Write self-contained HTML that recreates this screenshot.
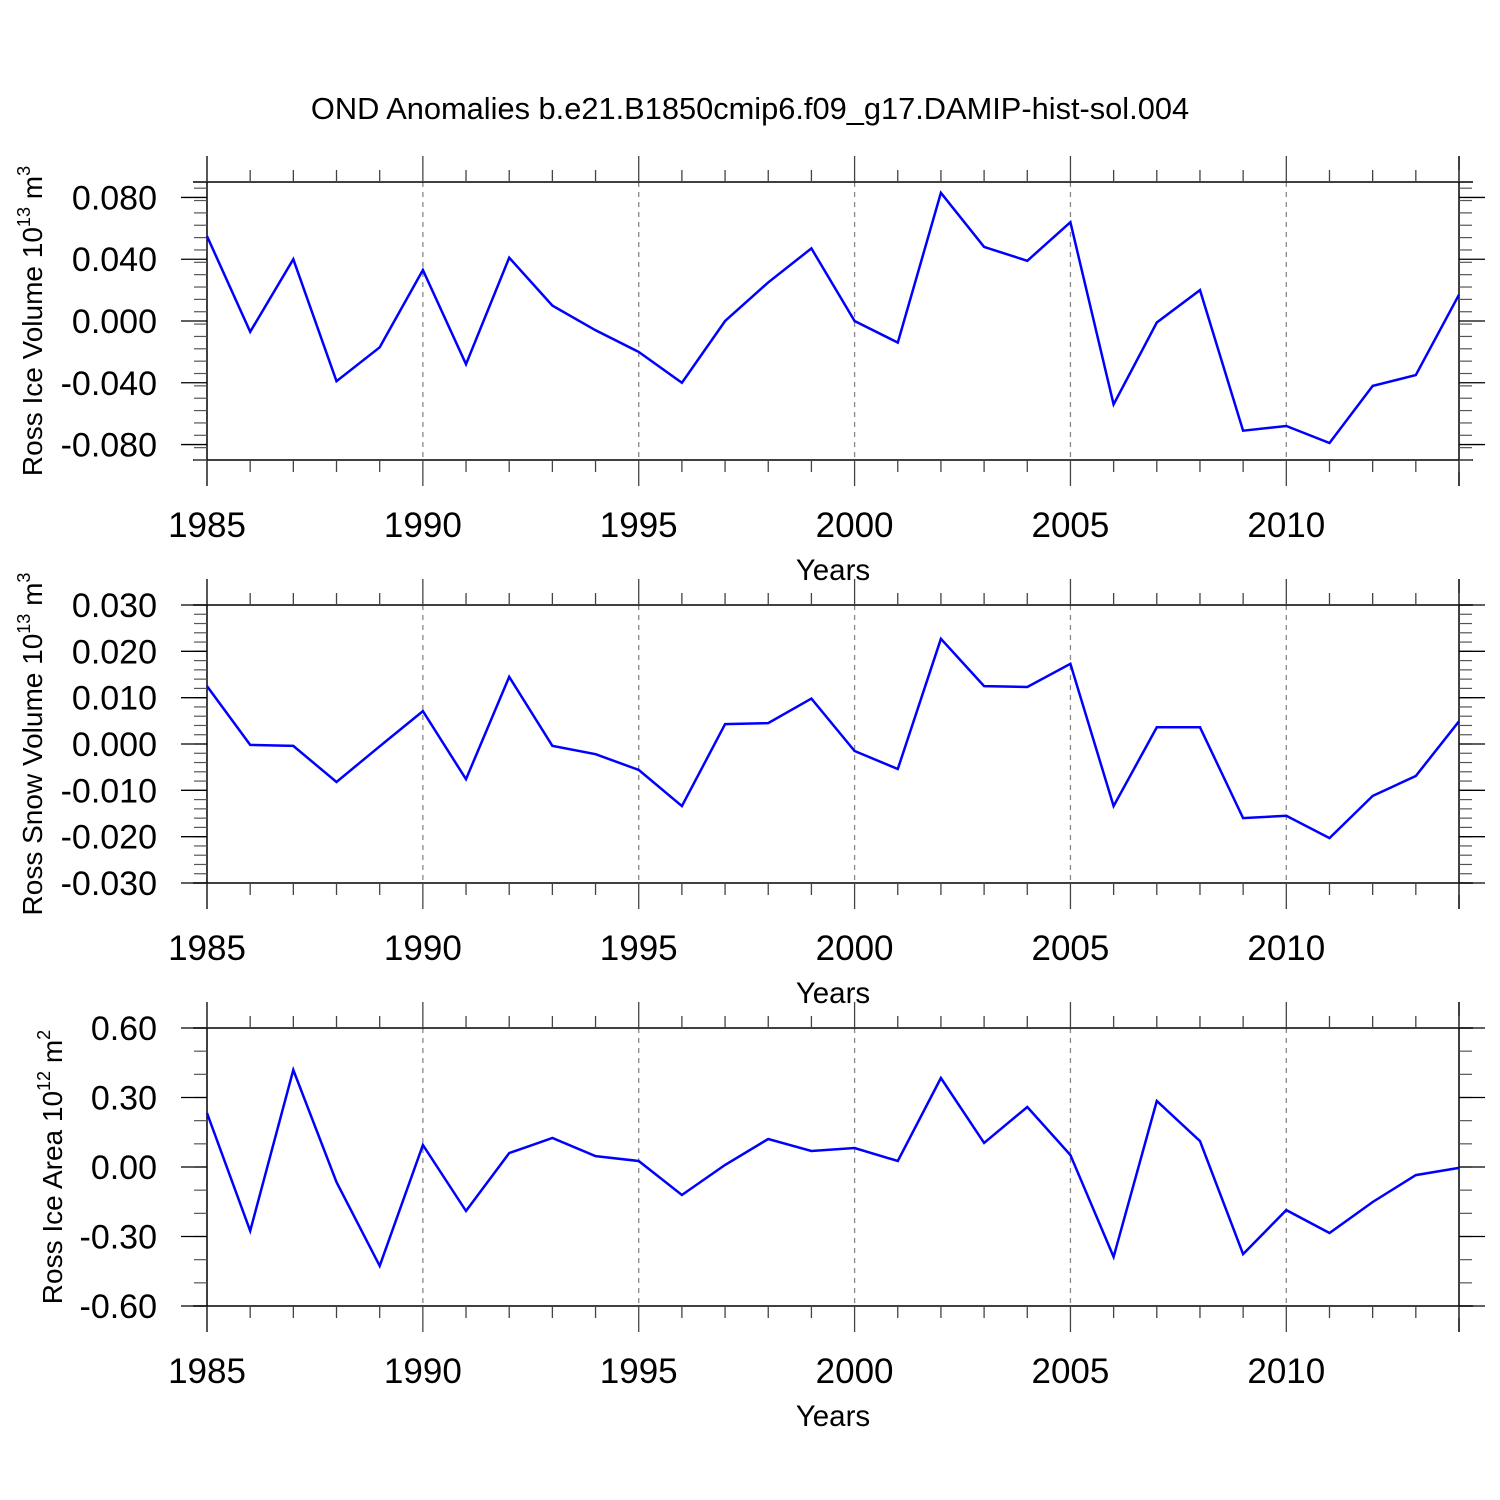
<!DOCTYPE html>
<html><head><meta charset="utf-8"><style>
html,body{margin:0;padding:0;background:#fff;}
svg{display:block;font-family:"Liberation Sans",sans-serif;}
</style></head><body>
<svg id="chart" width="1500" height="1500" viewBox="0 0 1500 1500" xmlns="http://www.w3.org/2000/svg">
<text x="750" y="119" font-size="30.8" text-anchor="middle">OND Anomalies b.e21.B1850cmip6.f09_g17.DAMIP-hist-sol.004</text>
</svg>
<script>
const years = [1985,1986,1987,1988,1989,1990,1991,1992,1993,1994,1995,1996,1997,1998,1999,2000,2001,2002,2003,2004,2005,2006,2007,2008,2009,2010,2011,2012,2013,2014];
const iceVolume = [0.055,-0.007,0.040,-0.039,-0.017,0.033,-0.028,0.041,0.010,-0.006,-0.020,-0.040,0.000,0.025,0.047,0.000,-0.014,0.083,0.048,0.039,0.064,-0.054,-0.001,0.020,-0.071,-0.068,-0.079,-0.042,-0.035,0.017];
const snowVolume = [0.0125,-0.0002,-0.0004,-0.0082,-0.0005,0.0071,-0.0076,0.0145,-0.0004,-0.0022,-0.0056,-0.0134,0.0043,0.0045,0.0098,-0.0015,-0.0054,0.0227,0.0125,0.0123,0.0173,-0.0134,0.0036,0.0036,-0.0160,-0.0155,-0.0203,-0.0112,-0.0069,0.0049];
const iceArea = [0.233,-0.276,0.419,-0.065,-0.427,0.095,-0.190,0.060,0.125,0.047,0.026,-0.121,0.009,0.121,0.069,0.082,0.026,0.384,0.104,0.259,0.052,-0.388,0.285,0.112,-0.376,-0.186,-0.285,-0.151,-0.035,-0.004];
const xTickYears = [1985,1990,1995,2000,2005,2010];
const iceVolTicks = [0.08,0.04,0,-0.04,-0.08];
const snowVolTicks = [0.03,0.02,0.01,0,-0.01,-0.02,-0.03];
const iceAreaTicks = [0.6,0.3,0,-0.3,-0.6];

const NS="http://www.w3.org/2000/svg";
const svg=document.getElementById('chart');
function el(tag,attrs,parent){const e=document.createElementNS(NS,tag);for(const k in attrs)e.setAttribute(k,attrs[k]);(parent||svg).appendChild(e);return e;}
const X0=207,X1=1459;
function xs(yr){return X0+(yr-1985)*(X1-X0)/(2014-1985);}

const panels=[
 {name:'ice-volume',data:iceVolume,ticks:iceVolTicks,top:182,bot:460,ymin:-0.09,ymax:0.09,minor:0.008,dec:3,label:'Ross Ice Volume 10',sup:'13',unit:' m',usup:'3',lx:32},
 {name:'snow-volume',data:snowVolume,ticks:snowVolTicks,top:605,bot:883,ymin:-0.03,ymax:0.03,minor:0.002,dec:3,label:'Ross Snow Volume 10',sup:'13',unit:' m',usup:'3',lx:32},
 {name:'ice-area',data:iceArea,ticks:iceAreaTicks,top:1028,bot:1306,ymin:-0.6,ymax:0.6,minor:0.1,dec:2,label:'Ross Ice Area 10',sup:'12',unit:' m',usup:'2',lx:52}
];
panels.forEach(p=>{
  const g=el('g',{});
  
  
  const ys=v=>p.bot-(v-p.ymin)*(p.bot-p.top)/(p.ymax-p.ymin);
  xTickYears.slice(1).forEach(yr=>{
    const l=el('line',{x1:xs(yr),x2:xs(yr),y1:p.top,y2:p.bot,stroke:'#888','stroke-width':1.3,'stroke-dasharray':'5,5'},g);
    
    
  });
  el('line',{x1:193,x2:1473,y1:p.top,y2:p.top,stroke:'#000','stroke-width':1.5},g);
  el('line',{x1:193,x2:1473,y1:p.bot,y2:p.bot,stroke:'#000','stroke-width':1.5},g);
  el('line',{x1:X0,x2:X0,y1:p.top-26,y2:p.bot+26,stroke:'#000','stroke-width':1.5},g);
  el('line',{x1:X1,x2:X1,y1:p.top-26,y2:p.bot+26,stroke:'#000','stroke-width':1.5},g);
  years.forEach(yr=>{
    const major=xTickYears.indexOf(yr)>=0;
    const len=major?26:12;
    el('line',{x1:xs(yr),x2:xs(yr),y1:p.top-len,y2:p.top,stroke:'#444','stroke-width':1.3},g);
    el('line',{x1:xs(yr),x2:xs(yr),y1:p.bot,y2:p.bot+len,stroke:'#444','stroke-width':1.3},g);
  });
  xTickYears.forEach(yr=>{
    const t=el('text',{x:xs(yr),y:p.bot+77,'font-size':35,'text-anchor':'middle'},g);
    t.textContent=yr;
    
    
  });
  const xt=el('text',{x:833,y:p.bot+120,'font-size':29.5,'text-anchor':'middle'},g);
  xt.textContent='Years';
  
  
  const n=Math.round((p.ymax-p.ymin)/p.minor);
  for(let i=0;i<=n;i++){
    const v=p.ymin+i*p.minor;const y=ys(v);
    if(y<p.top-0.5||y>p.bot+0.5)continue;
    el('line',{x1:X0-13,x2:X0,y1:y,y2:y,stroke:'#555','stroke-width':1.2},g);
    el('line',{x1:X1,x2:X1+13,y1:y,y2:y,stroke:'#555','stroke-width':1.2},g);
  }
  p.ticks.forEach(v=>{
    const y=ys(v);
    el('line',{x1:X0-26,x2:X0,y1:y,y2:y,stroke:'#000','stroke-width':1.3},g);
    el('line',{x1:X1,x2:X1+26,y1:y,y2:y,stroke:'#000','stroke-width':1.3},g);
    const t=el('text',{x:157,y:y+12,'font-size':34,'text-anchor':'end'},g);
    t.textContent=v.toFixed(p.dec);
    
    
  });
  const cy=(p.top+p.bot)/2;
  const yt=el('text',{x:0,y:0,'font-size':28,'text-anchor':'middle',transform:`translate(${p.lx+10},${cy}) rotate(-90)`},g);
  
  
  yt.appendChild(document.createTextNode(p.label));
  const s1=el('tspan',{'font-size':18,dy:-12},yt);s1.textContent=p.sup;
  const s2=el('tspan',{dy:12},yt);s2.textContent=p.unit;
  const s3=el('tspan',{'font-size':18,dy:-12},yt);s3.textContent=p.usup;
  const pts=p.data.map((v,i)=>xs(years[i]).toFixed(1)+','+ys(v).toFixed(1)).join(' ');
  const pl=el('polyline',{points:pts,fill:'none',stroke:'#0000ff','stroke-width':2.5,'stroke-linejoin':'miter'},g);
  
  
});
</script>
</body></html>
